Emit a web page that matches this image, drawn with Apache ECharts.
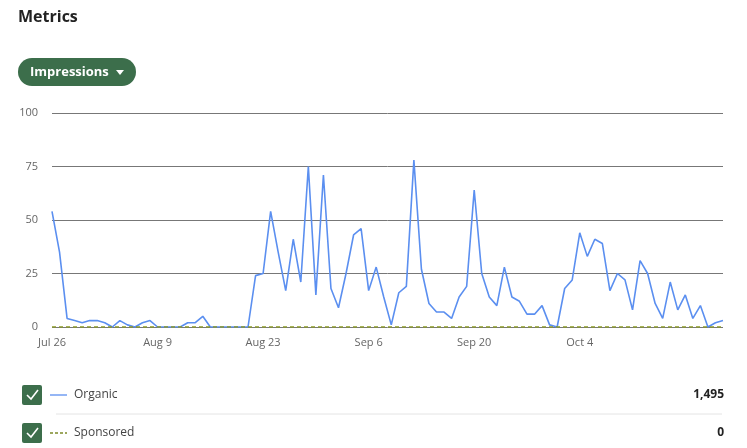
<!DOCTYPE html>
<html><head><meta charset="utf-8">
<script src="https://cdn.jsdelivr.net/npm/echarts@6/dist/echarts.min.js"></script>
<style>html,body{margin:0;padding:0;background:#fff}#c{width:747px;height:448px}</style>
</head><body><div id="c"></div>
<script>
const startDate = new Date(2021, 6, 26);
const organic = [54,35,4,3,2,3,3,2,0,3,1,0,2,3,0,0,0,0,2,2,5,0,0,0,0,0,0,24,25,54,35,17,41,21,75,15,71,18,9,25,43,46,17,28,14,1,16,19,78,27,11,7,7,4,14,19,64,25,14,10,28,14,12,6,6,10,1,0,18,22,44,33,41,39,17,25,22,8,31,25,11,4,21,8,15,4,10,0,2,3];
const sponsored = organic.map(() => 0);
const yTicks = [0,25,50,75,100];
const months = ['Jan','Feb','Mar','Apr','May','Jun','Jul','Aug','Sep','Oct','Nov','Dec'];
const categories = organic.map((_, i) => { const d = new Date(startDate); d.setDate(d.getDate() + i); return months[d.getMonth()] + ' ' + d.getDate(); });
const legendItems = [{name:'Organic', total:'1,495'}, {name:'Sponsored', total:'0'}];

const chart = echarts.init(document.getElementById('c'));
const green = '#3c6e4b';
const graphics = [
  {type:'text', left:18, top:9, style:{text:'Metrics', font:'bold 16px "Open Sans", sans-serif', fill:'#222'}},
  {type:'rect', shape:{x:18, y:58, width:118, height:28, r:14}, style:{fill:green}},
  {type:'text', x:30, y:72, style:{text:'Impressions', font:'bold 13px "Open Sans", sans-serif', fill:'#fff', verticalAlign:'middle'}},
  {type:'polygon', shape:{points:[[116,70],[124,70],[120,75]]}, style:{fill:'#fff'}},
  {type:'line', shape:{x1:56, y1:414, x2:722, y2:414}, style:{stroke:'#e4e4e4', lineWidth:1}}
];
legendItems.forEach((it, k) => {
  const cy = 395 + k * 38;
  graphics.push({type:'rect', shape:{x:22, y:cy-10, width:20, height:20, r:2}, style:{fill:green}});
  graphics.push({type:'polyline', shape:{points:[[27,cy],[31,cy+4],[38,cy-5]]}, style:{stroke:'#fff', lineWidth:1.6, fill:null}});
  graphics.push({type:'line', shape:{x1:50, y1:cy, x2:67, y2:cy}, style:{stroke: k ? '#7d8a2a' : '#5b8ff0', lineWidth:1.3, lineDash: k ? [3,2] : null}});
  graphics.push({type:'text', x:74, y:cy, style:{text:it.name, font:'12px "Open Sans", sans-serif', fill:'#444', verticalAlign:'middle'}});
  graphics.push({type:'text', x:724, y:cy, style:{text:it.total, font:'bold 12px "Open Sans", sans-serif', fill:'#222', align:'right', verticalAlign:'middle'}});
});

chart.setOption({
  animation:false,
  grid:{left:52, right:24, top:113, bottom:121},
  graphic: graphics,
  xAxis:{type:'category', data:categories, boundaryGap:false,
    axisLine:{show:false}, axisTick:{show:false},
    axisLabel:{interval:13, color:'#666', fontSize:11, fontFamily:'Open Sans', margin:10, showMaxLabel:false}},
  yAxis:{type:'value', min:0, max:100, interval:25,
    axisLine:{show:false}, axisTick:{show:false},
    axisLabel:{color:'#666', fontSize:11, fontFamily:'Open Sans', margin:14, formatter:v => yTicks.includes(v) ? String(v) : ''},
    splitLine:{lineStyle:{color:'#777', width:1}}},
  series:[
    {name:'Organic', type:'line', data:organic, symbol:'none', lineStyle:{color:'#5b8ff0', width:1.6}, z:3},
    {name:'Sponsored', type:'line', data:sponsored, symbol:'none', lineStyle:{color:'#8a9a20', width:1.3, type:[4,3]}, z:4}
  ]
});
</script></body></html>
